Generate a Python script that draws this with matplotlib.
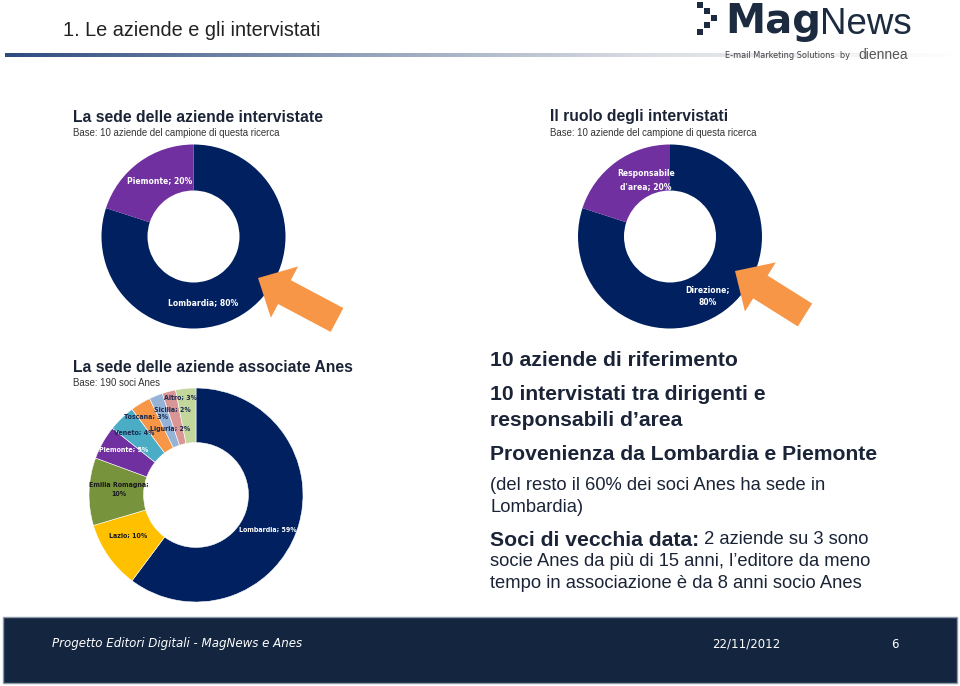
import numpy as np
import matplotlib
matplotlib.use("Agg")
import matplotlib.pyplot as plt
from matplotlib import font_manager as fm
from matplotlib.patches import FancyArrow, Rectangle
from matplotlib.colors import LinearSegmentedColormap

W, H = 960, 686

# --- data ---
sede_names = ["Lombardia", "Piemonte"]
sede_values = [80, 20]
sede_texts = ["Lombardia; 80%", "Piemonte; 20%"]

ruolo_names = ["Direzione", "Responsabile d'area"]
ruolo_values = [80, 20]
ruolo_texts = ["Direzione;\n80%", "Responsabile\nd'area; 20%"]

anes_names = ["Lombardia", "Lazio", "Emilia Romagna", "Piemonte", "Veneto",
              "Toscana", "Liguria", "Sicilia", "Altro"]
anes_values = [59, 10, 10, 5, 4, 3, 2, 2, 3]
anes_texts = ["Lombardia; 59%", "Lazio; 10%", "Emilia Romagna;\n10%", "Piemonte; 5%",
              "Veneto; 4%", "Toscana; 3%", "Liguria; 2%", "Sicilia; 2%", "Altro; 3%"]

# --- styles ---
navy = "#002060"
purple = "#7030A0"
anes_colors = [navy, "#FFC000", "#77933C", purple, "#4BACC6",
               "#F79646", "#95B3D7", "#D99694", "#C3D69B"]
anes_txtcol = ["white", "#1a1a1a", "#1a1a1a", "white", "#1a2a50",
               "#1a2a50", "#1a2a50", "#1a2a50", "#1a2a50"]
anes_pos = [(268, 530), (128, 536), (119, 489), (124, 450), (134, 433),
            (146, 417), (170, 429), (172, 410), (180, 398)]
txt = "#1b2437"
sans = ["Liberation Sans", "DejaVu Sans"]

# narrow font for labels: pick what is installed
names = {f.name for f in fm.fontManager.ttflist}
if "Liberation Sans Narrow" in names:
    narrow = dict(family="Liberation Sans Narrow")
    nscale = 1.05
elif any(f.name == "DejaVu Sans" and "Condensed" in f.fname for f in fm.fontManager.ttflist):
    narrow = dict(family="DejaVu Sans", stretch="condensed")
    nscale = 0.82
else:
    narrow = dict(family="Liberation Sans")
    nscale = 0.8

fig = plt.figure(figsize=(9.6, 6.86), dpi=100)


def donut_axes(cx, cy, r):
    return fig.add_axes([(cx - r) / W, (H - cy - r) / H, 2 * r / W, 2 * r / H])


# donut 1
ax1 = donut_axes(193.5, 236.5, 92)
ax1.pie(sede_values, colors=[navy, purple], startangle=90, counterclock=False,
        wedgeprops=dict(width=0.5))
ax1.set_xlim(-1, 1); ax1.set_ylim(-1, 1)

# donut 2
ax2 = donut_axes(670, 236.5, 92)
ax2.pie(ruolo_values, colors=[navy, purple], startangle=90, counterclock=False,
        wedgeprops=dict(width=0.5))
ax2.set_xlim(-1, 1); ax2.set_ylim(-1, 1)

# donut 3
ax3 = donut_axes(196, 495, 107)
ax3.pie(anes_values, colors=anes_colors, startangle=90, counterclock=False,
        wedgeprops=dict(width=0.51, edgecolor="white", linewidth=0.4))
ax3.set_xlim(-1, 1); ax3.set_ylim(-1, 1)

# overlay in pixel coordinates
ov = fig.add_axes([0, 0, 1, 1], zorder=10)
ov.patch.set_alpha(0)

# title and gradient rule
ov.text(63, 30, "1. Le aziende e gli intervistati", fontsize=14.3, color="#222222",
        family=sans, va="center")
cmap = LinearSegmentedColormap.from_list("rule", ["#2d4b80", "#8a9ab5", "#d9dce2", "#ffffff"])
ov.imshow(np.linspace(0, 1, 256)[None, :], extent=[5, 960, 57, 53], cmap=cmap, aspect="auto")

# logo
for sx, sy in [(697, 1.5), (704, 8), (711, 14.5), (704, 22), (697, 29)]:
    ov.add_patch(Rectangle((sx, sy), 6, 6, color="#1c2b3f", lw=0))
mag = ov.text(725, 33, "Mag", fontsize=29, fontweight="bold", color="#1c2b3f",
              family=["DejaVu Sans"], va="baseline")
ov.annotate("News", xycoords=mag, xy=(1, 0), va="bottom", fontsize=26.5, color="#1c2b3f",
            family=sans, xytext=(-1, 0), textcoords="offset points")
ov.text(725, 56, "E-mail Marketing Solutions  by", fontsize=8 * nscale, color="#444444",
        va="center", **narrow)
ov.text(858, 55, "diennea", fontsize=10, color="#555555", family=sans, va="center")

# chart titles
for x, y, t, fs, s in [(73, 117, "La sede delle aziende intervistate", 11.3, "Base: 10 aziende del campione di questa ricerca"),
                       (550, 117, "Il ruolo degli intervistati", 11.3, "Base: 10 aziende del campione di questa ricerca"),
                       (73, 368, "La sede delle aziende associate Anes", 11.3, "Base: 190 soci Anes")]:
    ov.text(x, y, t, fontsize=fs, fontweight="bold", color=txt, family=sans, va="center")
    ov.text(x, y + 15.5, s, fontsize=6.9, color="#333333", family=sans, va="center")

# donut labels
lab = dict(fontweight="bold", color="white", ha="center", va="center", linespacing=1.5, **narrow)
ov.text(203, 303, sede_texts[0], fontsize=7.5 * nscale, **lab)
ov.text(160, 181, sede_texts[1], fontsize=7.5 * nscale, **lab)
ov.text(708, 296, ruolo_texts[0], fontsize=7.5 * nscale, **lab)
ov.text(646, 180, ruolo_texts[1], fontsize=7.5 * nscale, **lab)
for (x, y), t, c in zip(anes_pos, anes_texts, anes_txtcol):
    ov.text(x, y, t, fontsize=6.1 * nscale, fontweight="bold", color=c,
            ha="center", va="center", linespacing=1.6, **narrow)

# arrows
arrow_col = "#F79646"
ov.add_patch(FancyArrow(337, 320, -79, -42, width=27, head_width=58, head_length=30,
                        length_includes_head=True, color=arrow_col, lw=0))
ov.add_patch(FancyArrow(805, 315, -70, -44, width=27, head_width=58, head_length=30,
                        length_includes_head=True, color=arrow_col, lw=0))

# right text block
big = dict(fontsize=15.2, fontweight="bold", color=txt, family=sans, va="center")
small = dict(fontsize=13.2, color=txt, family=sans, va="center")
ov.text(490, 360, "10 aziende di riferimento", **big)
ov.text(490, 394, "10 intervistati tra dirigenti e", **big)
ov.text(490, 420, "responsabili d\u2019area", **big)
ov.text(490, 454, "Provenienza da Lombardia e Piemonte", **big)
ov.text(490, 486, "(del resto il 60% dei soci Anes ha sede in", **small)
ov.text(490, 508, "Lombardia)", **small)
t1 = ov.text(490, 540, "Soci di vecchia data:", **big)
ov.annotate(" 2 aziende su 3 sono", xycoords=t1, xy=(1, 0.5), **small)
ov.text(490, 562, "socie Anes da pi\u00f9 di 15 anni, l\u2019editore da meno", **small)
ov.text(490, 584, "tempo in associazione \u00e8 da 8 anni socio Anes", **small)

# footer
ov.add_patch(Rectangle((3, 617), 954, 66, facecolor="#13253f", edgecolor="#8d99a8", lw=1))
ov.text(52, 644, "Progetto Editori Digitali - MagNews e Anes", fontsize=11.5 * nscale,
        style="italic", color="white", va="center", **narrow)
ov.text(712, 644, "22/11/2012", fontsize=11.5 * nscale, color="white", va="center", **narrow)
ov.text(891, 644, "6", fontsize=11.5 * nscale, color="white", va="center", **narrow)

ov.set_xlim(0, W)
ov.set_ylim(H, 0)
ov.axis("off")

fig.savefig("out.png", dpi=100)
